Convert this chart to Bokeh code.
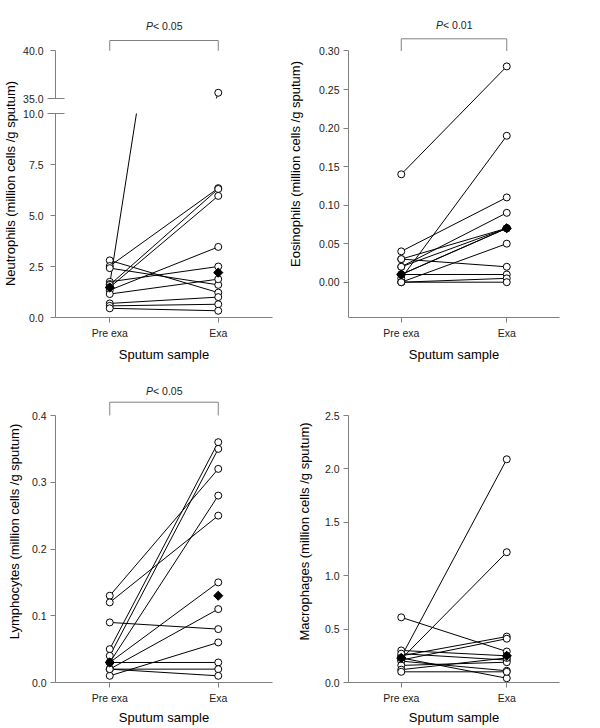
import numpy as np
from bokeh.plotting import figure
from bokeh.layouts import row, column
from bokeh.models import FixedTicker, Range1d, NumeralTickFormatter
from bokeh.core.properties import value
from bokeh.embed import file_html
from bokeh.resources import INLINE

# ---------------- data ----------------
groups = ["Pre exa", "Exa"]
group_x = [1, 2]

neut_pre = [2.80, 2.52, 2.42, 1.75, 1.64, 1.60, 1.48, 1.34, 1.15, 0.69, 0.57, 0.45]
neut_exa = [1.22, 6.34, 1.60, 2.50, 35.6, 6.30, 5.96, 3.46, 1.88, 1.00, 0.65, 0.33]
neut_median = [1.47, 2.20]

eos_pre = [0.14, 0.005, 0.04, 0.03, 0.03, 0.02, 0.02, 0.01, 0.01, 0.00, 0.01, 0.00, 0.00]
eos_exa = [0.28, 0.19, 0.11, 0.07, 0.02, 0.09, 0.07, 0.07, 0.07, 0.05, 0.01, 0.005, 0.00]
eos_median = [0.01, 0.07]

lymph_pre = [0.13, 0.12, 0.09, 0.05, 0.04, 0.03, 0.03, 0.02, 0.01, 0.03, 0.02, 0.02]
lymph_exa = [0.32, 0.25, 0.08, 0.36, 0.35, 0.28, 0.15, 0.11, 0.06, 0.03, 0.02, 0.01]
lymph_median = [0.03, 0.13]

macro_pre = [0.61, 0.24, 0.22, 0.25, 0.21, 0.30, 0.27, 0.20, 0.23, 0.16, 0.12, 0.10]
macro_exa = [0.29, 2.09, 1.22, 0.43, 0.41, 0.25, 0.21, 0.11, 0.04, 0.19, 0.23, 0.10]
macro_median = [0.23, 0.25]

neut_ticks_low = [0, 2.5, 5, 7.5, 10]
neut_ticks_high = [35, 40]
eos_ticks = [0, 0.05, 0.10, 0.15, 0.20, 0.25, 0.30]
lymph_ticks = [0, 0.1, 0.2, 0.3, 0.4]
macro_ticks = [0, 0.5, 1.0, 1.5, 2.0, 2.5]

p_neut = "< 0.05"
p_eos = "< 0.01"
p_lymph = "< 0.05"

# ---------------- style ----------------
FONT = "Liberation Sans"
AXIS_C = "#808080"
TEXT_C = "#222222"
TICK_FS = "10.5px"
LAB_FS = "13px"


def base_fig(width, height, yr, mbl, mbr, mbt, mbb, xaxis=True):
    p = figure(width=width, height=height,
               x_range=Range1d(0.5, 2.5), y_range=Range1d(*yr),
               output_backend="svg", toolbar_location=None,
               x_axis_location="below" if xaxis else None,
               min_border_left=mbl, min_border_right=mbr,
               min_border_top=mbt, min_border_bottom=mbb)
    p.grid.visible = False
    p.outline_line_color = None
    p.background_fill_color = "white"
    p.border_fill_color = "white"
    for ax in p.axis:
        ax.axis_line_color = AXIS_C
        ax.major_tick_line_color = AXIS_C
        ax.minor_tick_line_color = None
        ax.major_tick_out = 5
        ax.major_tick_in = 0
        ax.major_label_standoff = 4
        ax.major_label_text_font = FONT
        ax.major_label_text_font_size = TICK_FS
        ax.major_label_text_color = TEXT_C
        ax.axis_label_text_font = FONT
        ax.axis_label_text_font_size = LAB_FS
        ax.axis_label_text_font_style = "normal"
        ax.axis_label_text_color = "black"
    if xaxis:
        p.xaxis.ticker = FixedTicker(ticks=group_x)
        p.xaxis.major_label_overrides = {gx: g for gx, g in zip(group_x, groups)}
        p.xaxis.axis_label = "Sputum sample"
    return p


def draw_pairs(p, pre, exa, med):
    xs = [group_x for _ in pre]
    ys = [[a, b] for a, b in zip(pre, exa)]
    p.multi_line(xs=xs, ys=ys, line_color="black", line_width=1)
    p.scatter([group_x[0]] * len(pre), pre, marker="circle", size=7,
              fill_color="white", line_color="black", line_width=1)
    p.scatter([group_x[1]] * len(exa), exa, marker="circle", size=7,
              fill_color="white", line_color="black", line_width=1)
    p.scatter(group_x, med, marker="square", angle=np.pi / 4, size=6.5,
              fill_color="black", line_color="black")


def bracket(p, y_axis_top, y_top, y_text, ptxt):
    p.line(x=[group_x[0], group_x[0], group_x[1], group_x[1]],
           y=[y_axis_top, y_top, y_top, y_axis_top],
           line_color=AXIS_C, line_width=1)
    xm = (group_x[0] + group_x[1]) / 2
    p.text(x=[xm], y=[y_text], text=["P"], text_font=value(FONT),
           text_font_size=TICK_FS, text_font_style="italic", text_color=TEXT_C,
           text_align="right", text_baseline="middle", x_offset=-11)
    p.text(x=[xm], y=[y_text], text=[ptxt], text_font=value(FONT),
           text_font_size=TICK_FS, text_color=TEXT_C,
           text_align="left", text_baseline="middle", x_offset=-11)


# ---------------- panel 1: neutrophils (broken axis) ----------------
hi_scale = 9.54   # px per unit, upper segment
lab = figure(width=20, height=366, x_range=Range1d(0, 20), y_range=Range1d(0, 366),
             output_backend="svg", toolbar_location=None,
             x_axis_location=None, y_axis_location=None, min_border=0)
lab.grid.visible = False
lab.outline_line_color = None
lab.text(x=[9.5], y=[183], text=["Neutrophils (million cells /g sputum)"],
         angle=np.pi / 2, text_font=value(FONT), text_font_size=LAB_FS,
         text_color="black", text_align="center", text_baseline="middle")

p1a = base_fig(265, 104, (35, 35 + 88 / hi_scale), 35, 13, 10, 6, xaxis=False)
p1a.yaxis.ticker = FixedTicker(ticks=neut_ticks_high, minor_ticks=[neut_ticks_high[0]])
p1a.yaxis.formatter = NumeralTickFormatter(format="0.0")
p1a.yaxis.bounds = (neut_ticks_high[0], neut_ticks_high[-1])
p1a.yaxis.minor_tick_line_color = AXIS_C
p1a.yaxis.minor_tick_in = 9
p1a.yaxis.minor_tick_out = 8
draw_pairs(p1a, neut_pre, neut_exa, neut_median)
bracket(p1a, 40, 35 + 58 / hi_scale, 35 + 73 / hi_scale, p_neut)

p1b = base_fig(265, 262, (0, 10), 35, 13, 9, 49)
p1b.yaxis.ticker = FixedTicker(ticks=neut_ticks_low, minor_ticks=[neut_ticks_low[-1]])
p1b.yaxis.formatter = NumeralTickFormatter(format="0.0")
p1b.yaxis.minor_tick_line_color = AXIS_C
p1b.yaxis.minor_tick_in = 9
p1b.yaxis.minor_tick_out = 8
p1b.xaxis.axis_label_standoff = 5
draw_pairs(p1b, neut_pre, neut_exa, neut_median)

# ---------------- panel 2: eosinophils ----------------
eos_scale = 770.7
p2 = base_fig(315, 366, (-35.3 / eos_scale, 0.30 + 40.5 / eos_scale), 61, 41, 10, 49)
p2.yaxis.ticker = FixedTicker(ticks=eos_ticks)
p2.yaxis.formatter = NumeralTickFormatter(format="0.00")
p2.yaxis.bounds = (-35.3 / eos_scale, eos_ticks[-1])
p2.yaxis.axis_label = "Eosinophils (million cells /g sputum)"
p2.yaxis.axis_label_standoff = 13
p2.xaxis.axis_label_standoff = 5
draw_pairs(p2, eos_pre, eos_exa, eos_median)
bracket(p2, 0.30, 0.30 + 12.2 / eos_scale, 0.30 + 25.5 / eos_scale, p_eos)

# ---------------- panel 3: lymphocytes ----------------
lym_scale = 667.5
p3 = base_fig(285, 362, (0, 0.4 + 35 / lym_scale), 55, 13, 14, 46)
p3.yaxis.ticker = FixedTicker(ticks=lymph_ticks)
p3.yaxis.formatter = NumeralTickFormatter(format="0.0")
p3.yaxis.bounds = (0, lymph_ticks[-1])
p3.yaxis.axis_label = "Lymphocytes (million cells /g sputum)"
p3.yaxis.axis_label_standoff = 7
p3.xaxis.axis_label_standoff = 3
draw_pairs(p3, lymph_pre, lymph_exa, lymph_median)
bracket(p3, 0.4, 0.4 + 13.3 / lym_scale, 0.4 + 25 / lym_scale, p_lymph)

# ---------------- panel 4: macrophages ----------------
mac_scale = 106.8
p4 = base_fig(315, 362, (0, 2.5 + 35 / mac_scale), 61, 41, 14, 46)
p4.yaxis.ticker = FixedTicker(ticks=macro_ticks)
p4.yaxis.formatter = NumeralTickFormatter(format="0.0")
p4.yaxis.bounds = (0, macro_ticks[-1])
p4.yaxis.axis_label = "Macrophages (million cells /g sputum)"
p4.yaxis.axis_label_standoff = 10
p4.xaxis.axis_label_standoff = 3
draw_pairs(p4, macro_pre, macro_exa, macro_median)

left = column(row(lab, column(p1a, p1b)), p3)
right = column(p2, p4)
layout = row(left, right)

open("out.html", "w").write(file_html(layout, INLINE))
